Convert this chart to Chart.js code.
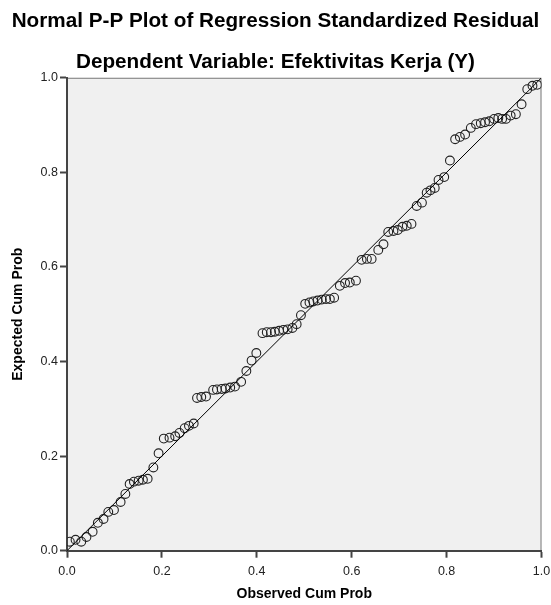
<!DOCTYPE html>
<html><head><meta charset="utf-8">
<script src="https://cdn.jsdelivr.net/npm/chart.js@4.4.1/dist/chart.umd.min.js"></script>
<style>html,body{margin:0;padding:0;background:#fff;}</style>
</head><body>
<canvas id="c" width="551" height="605" style="display:block;width:551px;height:605px"></canvas>
<script>
const observedCumProb = [
  0.006,0.018,0.030,0.041,0.054,0.065,0.077,0.087,0.099,0.113,0.123,0.132,0.141,0.151,0.160,0.170,0.182,0.193,0.204,0.216,0.228,0.237,0.248,0.257,0.267,
  0.274,0.283,0.293,0.308,0.316,0.326,0.334,0.344,0.354,0.367,0.378,0.389,0.399,
  0.412,0.421,0.430,0.438,0.447,0.456,0.465,0.475,0.484,0.493,0.502,0.511,0.519,0.528,0.537,0.546,0.554,0.563,
  0.575,0.586,0.596,0.609,0.621,0.632,0.642,0.656,0.667,0.677,
  0.688,0.697,0.707,0.716,0.726,0.737,0.748,0.758,0.766,0.775,0.783,0.795,0.807,
  0.818,0.828,0.839,0.851,0.862,0.872,0.881,0.890,0.900,0.909,0.917,0.925,0.935,0.946,0.958,0.970,0.981,0.991
];
const expectedCumProb = [
  0.019,0.023,0.019,0.029,0.040,0.059,0.067,0.082,0.086,0.103,0.120,0.141,0.146,0.148,0.150,0.152,0.176,0.206,0.237,0.239,0.242,0.249,0.259,0.264,0.269,
  0.323,0.325,0.326,0.340,0.341,0.342,0.343,0.345,0.347,0.357,0.380,0.402,0.418,
  0.460,0.462,0.462,0.463,0.465,0.467,0.468,0.471,0.479,0.498,0.522,0.525,0.527,0.529,0.531,0.532,0.532,0.535,
  0.560,0.566,0.567,0.571,0.615,0.617,0.617,0.636,0.648,0.674,
  0.676,0.678,0.685,0.687,0.691,0.729,0.736,0.757,0.762,0.767,0.784,0.790,0.825,
  0.870,0.875,0.880,0.894,0.902,0.904,0.906,0.908,0.913,0.915,0.913,0.913,0.920,0.923,0.944,0.976,0.983,0.985
];
const referenceLineX = [0, 1];
const referenceLineY = [0, 1];
const tickValues = [0, 0.2, 0.4, 0.6, 0.8, 1.0];
const tickLabels = ['0.0', '0.2', '0.4', '0.6', '0.8', '1.0'];
const titleText = 'Normal P-P Plot of Regression Standardized Residual';
const subtitleText = 'Dependent Variable: Efektivitas Kerja (Y)';
const xTitle = 'Observed Cum Prob';
const yTitle = 'Expected Cum Prob';

const FONT = '"Liberation Sans", Arial, Helvetica, sans-serif';
const points = observedCumProb.map((x, i) => ({x: x, y: expectedCumProb[i]}));
const refLine = referenceLineX.map((x, i) => ({x: x, y: referenceLineY[i]}));

const bgPlugin = {
  id: 'plotBg',
  beforeDraw(chart) {
    const {ctx, chartArea: a} = chart;
    ctx.save();
    ctx.fillStyle = '#f0f0f0';
    ctx.fillRect(a.left, a.top, a.right - a.left, a.bottom - a.top);
    ctx.strokeStyle = '#7a7a7a';
    ctx.lineWidth = 1;
    ctx.beginPath();
    ctx.moveTo(a.left, a.top + 0.5);
    ctx.lineTo(a.right - 0.5, a.top + 0.5);
    ctx.lineTo(a.right - 0.5, a.bottom);
    ctx.stroke();
    ctx.restore();
  }
};

function tickCb(v) {
  const i = tickValues.findIndex(t => Math.abs(t - v) < 1e-9);
  return i >= 0 ? tickLabels[i] : '';
}
function noEdgePad(s) { s.paddingLeft = 0; s.paddingRight = 0; s.paddingTop = 0; s.paddingBottom = 0; }

new Chart(document.getElementById('c'), {
  data: {
    datasets: [
      {
        type: 'scatter',
        data: points,
        pointRadius: 4.4,
        pointHoverRadius: 4.4,
        pointBorderColor: '#222',
        pointBackgroundColor: 'rgba(0,0,0,0)',
        pointBorderWidth: 1.1,
        order: 2
      },
      {
        type: 'line',
        data: refLine,
        borderColor: '#000',
        borderWidth: 1,
        pointRadius: 0,
        fill: false,
        order: 1
      }
    ]
  },
  options: {
    responsive: false,
    animation: false,
    devicePixelRatio: 1,
    layout: {padding: {left: 0, right: 0, top: 0, bottom: 0}},
    plugins: {
      legend: {display: false},
      tooltip: {enabled: false},
      title: {
        display: true, text: titleText, color: '#000',
        font: {family: FONT, size: 20.7, weight: 'bold'},
        padding: {top: 9, bottom: 10}
      },
      subtitle: {
        display: true, text: subtitleText, color: '#000',
        font: {family: FONT, size: 20.7, weight: 'bold'},
        padding: {top: 5.8, bottom: 3.3}
      }
    },
    scales: {
      x: {
        type: 'linear', position: 'bottom', min: 0, max: 1,
        afterBuildTicks: s => { s.ticks = tickValues.map(v => ({value: v})); },
        afterFit: s => { s.height = 54.3; noEdgePad(s); },
        ticks: {callback: tickCb, color: '#222', font: {family: FONT, size: 12.5}, padding: 6, maxRotation: 0},
        grid: {display: true, drawOnChartArea: false, drawTicks: true, tickLength: 7, tickColor: '#444', tickWidth: 2},
        border: {display: true, color: '#444', width: 2},
        title: {display: true, text: xTitle, color: '#000', font: {family: FONT, size: 14, weight: 'bold'}, padding: {top: 0, bottom: 2.6}}
      },
      y: {
        type: 'linear', position: 'left', min: 0, max: 1,
        afterBuildTicks: s => { s.ticks = tickValues.map(v => ({value: v})); },
        afterFit: s => { s.width = 67; noEdgePad(s); },
        ticks: {callback: tickCb, color: '#222', font: {family: FONT, size: 12.5}, padding: 2},
        grid: {display: true, drawOnChartArea: false, drawTicks: true, tickLength: 7, tickColor: '#444', tickWidth: 2},
        border: {display: true, color: '#444', width: 2},
        title: {display: true, text: yTitle, color: '#000', font: {family: FONT, size: 14, weight: 'bold'}, padding: {top: 9.6, bottom: 0}}
      },
      yRight: {
        type: 'linear', position: 'right', min: 0, max: 1, display: true,
        afterFit: s => { s.width = 9.5; noEdgePad(s); },
        ticks: {display: false},
        grid: {display: false, drawTicks: false},
        border: {display: false},
        title: {display: false}
      }
    }
  },
  plugins: [bgPlugin]
});
</script>
</body></html>
